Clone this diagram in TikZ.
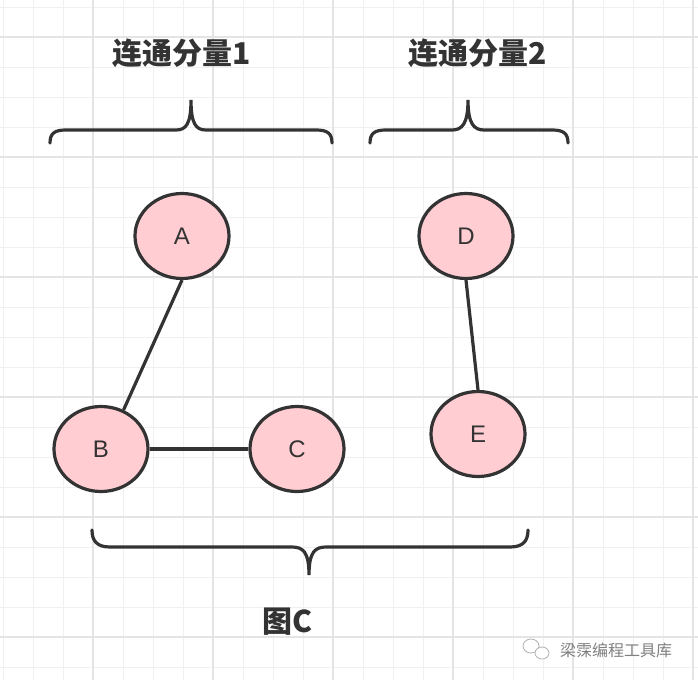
\documentclass[tikz,border=0pt]{standalone}
\usepackage{fontspec}
\setmainfont{Liberation Sans}
\newfontfamily\cjk{Noto Sans CJK SC}
\usetikzlibrary{shapes.geometric}

\definecolor{nodepink}{HTML}{FFCDD2}
\definecolor{inkgray}{HTML}{333333}
\definecolor{gridminor}{HTML}{F0F0F0}
\definecolor{gridmajor}{HTML}{E4E4E4}

\begin{document}
\begin{tikzpicture}[
    x=1pt, y=-1pt,
    vertex/.style={ellipse, draw=inkgray, fill=nodepink, line width=3.2pt, minimum width=94pt, minimum height=85pt, inner sep=0pt, font=\fontsize{24}{24}\selectfont, text=inkgray},
    link/.style={draw=inkgray, line width=3.2pt},
    brace/.style={draw=inkgray, line width=3.2pt, line cap=round},
    comptitle/.style={font=\cjk\bfseries\fontsize{30}{30}\selectfont, text=inkgray},
    minorline/.style={gridminor, line width=1pt},
    majorline/.style={gridmajor, line width=2pt}
]
    \useasboundingbox[fill=white] (0,0) rectangle (698,680);

    % background grid
    \foreach \x in {3,33,...,693} \draw[minorline] (\x,0) -- (\x,680);
    \foreach \y in {7,37,...,667} \draw[minorline] (0,\y) -- (698,\y);
    \foreach \x in {93,213,...,693} \draw[majorline] (\x,0) -- (\x,680);
    \foreach \y in {37,157,...,637} \draw[majorline] (0,\y) -- (698,\y);

    % vertices
    \node[vertex] (A) at (182,236) {A};
    \node[vertex] (B) at (101,449) {B};
    \node[vertex] (C) at (297,449) {C};
    \node[vertex] (D) at (466,236) {D};
    \node[vertex] (E) at (478,434) {E};

    \draw[link] (A.south) -- (B.60);
    \draw[link] (B) -- (C);
    \draw[link] (D.south) -- (E.north);

    % braces
    \draw[brace] (50,143) .. controls (50,133) and (55,130) .. (66,130) -- (176,130)
        .. controls (186,130) and (191,124) .. (191,100)
        .. controls (191,124) and (196,130) .. (206,130) -- (316,130)
        .. controls (327,130) and (332,133) .. (332,143);
    \draw[brace] (370,143) .. controls (370,133) and (375,130) .. (386,130) -- (452,130)
        .. controls (462,130) and (468,124) .. (468,100)
        .. controls (468,124) and (474,130) .. (484,130) -- (552,130)
        .. controls (563,130) and (568,133) .. (568,143);
    \draw[brace] (92,530) .. controls (92,541) and (97,547) .. (110,547) -- (292,547)
        .. controls (303,547) and (309,552) .. (309,575)
        .. controls (309,552) and (315,547) .. (326,547) -- (510,547)
        .. controls (523,547) and (528,541) .. (528,530);

    % labels
    \node[comptitle] (t1) at (182,53) {连通分量1};
    \node[comptitle] (t2) at (478,53) {连通分量2};
    \node[comptitle] (fig) at (288,622) {图C};

    % watermark
    \draw[gray!60, line width=0.8pt, fill=white] (531,646) ellipse (8pt and 7pt);
    \draw[gray!60, line width=0.8pt, fill=white] (542,653) ellipse (7pt and 6pt);
    \node[font=\cjk\fontsize{16}{16}\selectfont, text=gray] (mark) at (616,650) {梁霂编程工具库};
\end{tikzpicture}
\end{document}
